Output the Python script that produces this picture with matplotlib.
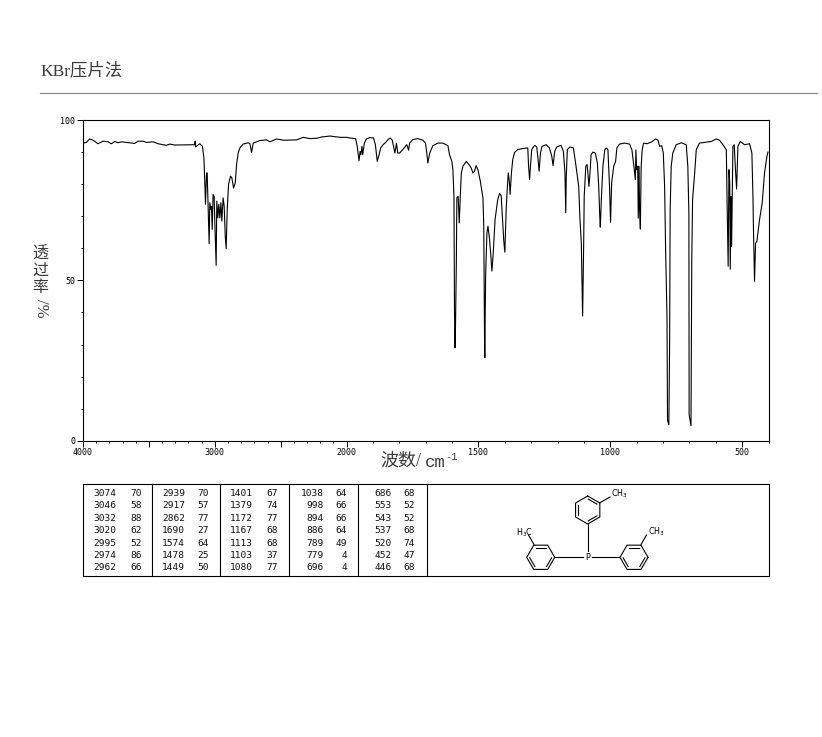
#!/usr/bin/env python3
import numpy as np
import matplotlib
matplotlib.use('Agg')
from matplotlib import pyplot as plt
from matplotlib.ticker import FixedLocator, FixedFormatter

# spectrum, (wavenumber, transmittance)
baseline = [(4000,92.8),(3975,93.0),(3949,94.1),(3924,93.7),(3886,92.6),(3848,93.4),(3810,93.2),
    (3785,92.6),(3759,93.3),(3734,92.9),(3709,93.2),(3671,93.0),(3608,92.7),(3582,93.4),(3544,93.4),
    (3519,93.0),(3468,93.2),(3430,92.6),(3367,92.1),(3342,92.5),(3304,92.2),(3152,92.3),(3149,93.4),
    (3147,91.6),(3114,92.6),(3094,91.8)]
ch_band = [(3083,88.2),(3076,80.4),(3071,73.7),(3063,83.5),(3058,83.5),(3053,76.2),(3048,67.9),
    (3043,61.4),(3038,74.2),(3030,72.1),(3025,73.1),(3020,65.9),(3013,76.8),(3005,76.2),(3000,67.9),
    (2995,61.7),(2990,54.7),(2985,74.7),(2977,69.5),(2970,73.7),(2962,69.5),(2954,74.2),(2947,68.5),
    (2937,75.7),(2929,73.1),(2921,63.8),(2914,59.9),(2906,72.1),(2896,79.9),(2881,82.5),(2871,82.0),
    (2858,78.8),(2845,80.4),(2835,86.1),(2823,89.7),(2810,91.3),(2785,92.5),(2747,92.9),(2734,92.6),
    (2721,89.9),(2709,92.8)]
plateau = [(2658,93.6),(2607,93.8),(2582,93.2),(2531,94.1),(2481,93.7),(2380,93.8),(2329,94.6),
    (2278,94.2),(2228,94.3),(2190,94.7),(2126,95.0),(2050,94.6),(2000,94.6),(1989,94.4),(1966,94.2)]
overtones = [(1960,91.8),(1953,87.3),(1949,90.2),(1946,89.2),(1942,91.8),(1939,89.2),(1933,92.8),
    (1925,94.1),(1913,94.5),(1898,94.4),(1891,92.3),(1884,87.1),(1877,89.2),(1871,91.3),(1862,92.3),
    (1852,93.0),(1843,93.9),(1835,94.4),(1827,93.7),(1821,91.3),(1817,89.7),(1811,92.8),(1806,89.7),
    (1799,89.7),(1787,90.8),(1772,92.3),(1765,90.6),(1761,92.8),(1749,93.9),(1730,94.2),(1711,93.7),
    (1701,92.8),(1696,89.7),(1692,86.6),(1685,89.7),(1673,92.0),(1654,92.8),(1635,92.8),(1616,92.0)]
fingerprint_hi = [(1610,89.2),(1601,87.1),(1597,84.5),(1593,76.2),(1591,40.9),(1589,29.0),(1587,36.8),
    (1584,55.5),(1582,75.7),(1577,76.2),(1573,67.9),(1569,76.2),(1565,83.5),(1559,85.6),(1546,87.1),
    (1536,86.1),(1528,85.1),(1521,83.5),(1515,84.0),(1509,85.8),(1502,84.5),(1493,80.9),(1483,75.7),
    (1480,66.9),(1477,31.6),(1476,25.9),(1473,51.3),(1468,64.8),(1464,66.9),(1458,62.8),(1453,57.6),
    (1449,52.9),(1444,58.6),(1437,69.0),(1427,75.2),(1420,77.1),(1414,76.5),(1408,67.9),(1404,62.2),
    (1400,58.8),(1395,72.1),(1391,78.3),(1387,83.5),(1383,80.9),(1380,76.8),(1375,83.5),(1370,87.7),
    (1363,89.9),(1351,90.8),(1332,91.1),(1313,91.3),(1310,85.6),(1306,81.4),(1303,85.6),(1298,90.8),
    (1287,92.1),(1279,91.6),(1274,87.7),(1270,84.0),(1265,89.7),(1259,91.8),(1243,92.3),(1231,91.3),
    (1222,88.7),(1217,85.8),(1211,90.2),(1203,91.6),(1187,92.1),(1178,90.2),(1172,83.5),(1169,71.1),
    (1167,82.5),(1163,90.8),(1153,91.6),(1140,91.3),(1130,85.6),(1120,79.4),(1115,69.0),(1110,61.7),
    (1106,44.1),(1105,38.9)]
fingerprint_lo = [(1101,61.6),(1099,76.2),(1093,85.6),(1088,86.1),(1085,83.5),(1081,79.3),(1077,83.5),
    (1073,89.2),(1066,90.0),(1057,89.7),(1049,86.6),(1044,79.3),(1040,70.0),(1038,66.6),(1033,77.2),
    (1028,85.6),(1021,90.7),(1015,91.3),(1009,90.7),(1003,79.3),(999,68.1),(995,80.4),(987,85.6),
    (980,87.1),(975,91.3),(965,92.5),(946,92.8),(927,92.5),(918,90.7),(909,84.5),(905,81.4),(903,90.7),
    (900,84.5),(896,85.6),(894,69.4),(891,85.6),(889,72.0),(886,66.0),(883,85.6),(879,90.7),(874,92.8),
    (861,92.6),(845,93.1),(828,94.1),(819,93.7),(813,91.8),(805,92.0),(799,89.7),(794,79.3),(790,58.5),
    (785,38.8),(783,6.5),(778,5.0),(775,30.5),(773,72.0),(769,85.6),(763,89.7),(750,92.3),(731,92.9),
    (712,92.3),(706,85.6),(702,71.0),(701,8.1),(694,4.7),(691,56.4),(688,75.2),(680,83.5),(674,90.7),
    (662,92.8),(636,93.1),(617,93.3),(598,94.1),(586,93.7),(573,92.3),(560,90.7),(557,74.1),(553,54.4),
    (550,84.5),(547,80.4),(545,53.5),(542,76.2),(540,60.6),(535,91.8),(530,92.3),(526,85.6),(521,78.5),
    (516,91.8),(507,93.3),(491,92.3),(472,92.6),(463,89.7),(459,76.2),(457,65.8),(453,49.7),(449,61.6),
    (444,62.2),(434,68.9),(424,74.1),(415,83.5),(406,88.7),(402,90.0)]

# peak table, column by column
peak_wn = [[3074,3046,3032,3020,2995,2974,2962],
           [2939,2917,2862,1690,1574,1478,1449],
           [1401,1379,1172,1167,1113,1103,1080],
           [1038,998,894,886,789,779,696],
           [686,553,543,537,520,452,446]]
peak_t = [[70,58,88,62,52,86,66],
          [70,57,77,27,64,25,50],
          [67,74,77,68,68,37,77],
          [64,66,66,64,49,4,4],
          [68,52,52,68,74,47,68]]

x_major = [4000,3500,3000,2500,2000,1500,1000,500]
x_labels = ['4000','','3000','','2000','1500','1000','500']
y_major = [0,50,100]
y_labels = ['0','50','100']

W, H = 822, 737
CJK = ['Liberation Serif', 'Noto Sans CJK SC']
GREY = '#3a3a3a'
MONO = 'DejaVu Sans Mono'

fig = plt.figure(figsize=(W/100, H/100), dpi=100)

# overlay in pixel coordinates for title, table frame and the molecule
ov = fig.add_axes([0, 0, 1, 1])
ov.set_xlim(0, W)
ov.set_ylim(H, 0)
ov.axis('off')

ax = fig.add_axes([83/W, 1-440.8/H, (768.5-83)/W, (440.8-120)/H])

# wavenumber axis doubles its scale below 2000
def fwd(x):
    x = np.asarray(x, dtype=float)
    return np.where(x > 2000, 2000+(x-2000)/2, x)
def inv(x):
    x = np.asarray(x, dtype=float)
    return np.where(x > 2000, 2000+(x-2000)*2, x)
ax.set_xscale('function', functions=(fwd, inv))

spec = np.array(baseline+ch_band+plateau+overtones+fingerprint_hi+fingerprint_lo)
ax.plot(spec[:,0], spec[:,1], color='k', lw=0.8)
ax.set_xlim(4000, 400)
ax.set_ylim(0, 100)

ax.xaxis.set_major_locator(FixedLocator(x_major))
ax.xaxis.set_major_formatter(FixedFormatter(x_labels))
ax.xaxis.set_minor_locator(FixedLocator(np.arange(400, 4001, 100)))
ax.yaxis.set_major_locator(FixedLocator(y_major))
ax.yaxis.set_major_formatter(FixedFormatter(y_labels))
ax.yaxis.set_minor_locator(FixedLocator(np.arange(0, 101, 10)))
ax.tick_params(which='major', length=4, width=0.7, pad=1.5, labelsize=6)
ax.tick_params(which='minor', length=1.5, width=0.7)
for lab in ax.get_xticklabels()+ax.get_yticklabels():
    lab.set_family(MONO)
for s in ax.spines.values():
    s.set_linewidth(0.8)

# title and rule
ov.text(40, 71, 'KBr压片法', family=CJK, fontsize=12.5, color=GREY, va='center', ha='left')
ov.plot([40, 817], [92.5, 92.5], color='#8c8c8c', lw=0.9)

# axis titles
ov.text(380, 461, '波数/', family=CJK, fontsize=13, color=GREY, va='center', ha='left')
ov.text(425, 462, 'cm', family='Liberation Mono', fontsize=12.5, color=GREY, va='center', ha='left')
ov.text(445, 457, '-1', family='Liberation Mono', fontsize=7.5, color=GREY, va='center', ha='left')
for ch, y in zip('透过率', [255, 271, 288]):
    ov.text(40.5, y, ch, family=CJK, fontsize=11.5, color=GREY, va='center', ha='center')
ov.text(41, 308, '/%', family=CJK, fontsize=12, color=GREY, va='center', ha='center', rotation=-90)

# table frame
ov.plot([83, 768.5, 768.5, 83, 83], [484, 484, 576, 576, 484], color='k', lw=0.8)
for x in [152, 220, 289, 358, 426.5]:
    ov.plot([x, x], [484, 576], color='k', lw=0.8)

wn_right = [116, 185, 253, 324, 392]
t_right = [142, 209, 278, 347, 415]
row_y = [493.3, 505.7, 518.2, 530.5, 543, 555.3, 567.7]
for c in range(5):
    for r in range(7):
        ov.text(wn_right[c], row_y[r], str(peak_wn[c][r]), family=MONO, fontsize=6.8,
                ha='right', va='center', color='#111111')
        ov.text(t_right[c], row_y[r], str(peak_t[c][r]), family=MONO, fontsize=6.8,
                ha='right', va='center', color='#111111')

# tri-m-tolylphosphine
def ring(cx, cy, r, a0, double):
    ang = np.radians(a0+60*np.arange(7))
    xs, ys = cx+r*np.cos(ang), cy+r*np.sin(ang)
    ov.plot(xs, ys, color='k', lw=0.8)
    for i in double:
        mx, my = (xs[i]+xs[i+1])/2, (ys[i]+ys[i+1])/2
        px, py = cx+(mx-cx)*0.8, cy+(my-cy)*0.8
        dx, dy = (xs[i+1]-xs[i])*0.36, (ys[i+1]-ys[i])*0.36
        ov.plot([px-dx, px+dx], [py-dy, py+dy], color='k', lw=0.8)

ring(587.7, 510, 14, -90, [0, 2, 4])
ring(540.7, 557.3, 14, 0, [0, 2, 4])
ring(634, 557.3, 14, 0, [0, 2, 4])
for xb, yb in [([587.7, 587.7], [524, 552]), ([555, 583], [557.3, 557.3]), ([592, 620], [557.3, 557.3]),
               ([599.5, 610], [503, 497]), ([534, 528.5], [544.5, 535]), ([641, 646.5], [544.5, 535])]:
    ov.plot(xb, yb, color='k', lw=0.8)
ov.text(587.7, 557.3, 'P', family=MONO, fontsize=6, ha='center', va='center',
        bbox=dict(fc='white', ec='none', pad=0.5))
ov.text(611, 494, 'CH$_3$', family='DejaVu Sans', fontsize=5.8, ha='left', va='center')
ov.text(516, 532.5, 'H$_3$C', family='DejaVu Sans', fontsize=5.8, ha='left', va='center')
ov.text(648, 532, 'CH$_3$', family='DejaVu Sans', fontsize=5.8, ha='left', va='center')

fig.savefig('out.png', dpi=100)
